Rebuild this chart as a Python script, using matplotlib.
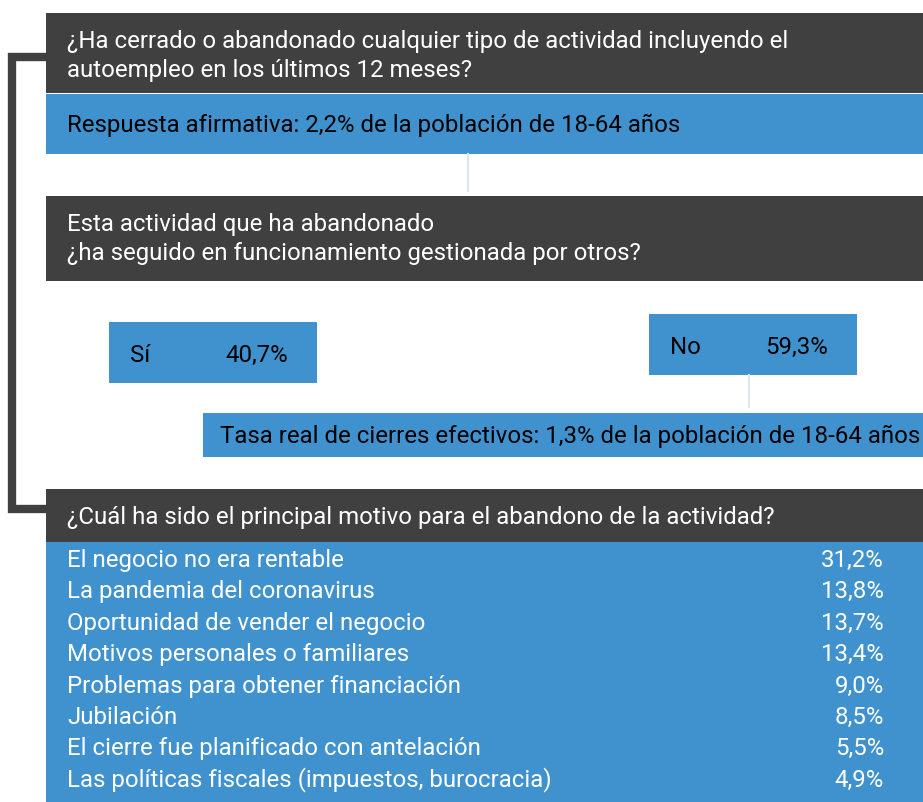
import matplotlib.pyplot as plt
from matplotlib.patches import Rectangle

plt.rcParams['font.family'] = ['Roboto', 'DejaVu Sans']

# datos
pregunta1 = ["¿Ha cerrado o abandonado cualquier tipo de actividad incluyendo el",
             "autoempleo en los últimos 12 meses?"]
respuesta1 = "Respuesta afirmativa: 2,2% de la población de 18-64 años"
pregunta2 = ["Esta actividad que ha abandonado",
             "¿ha seguido en funcionamiento gestionada por otros?"]
opciones = ["Sí", "No"]
opciones_pct = [40.7, 59.3]
tasa_real = "Tasa real de cierres efectivos: 1,3% de la población de 18-64 años"
pregunta3 = "¿Cuál ha sido el principal motivo para el abandono de la actividad?"
motivos = ["El negocio no era rentable",
           "La pandemia del coronavirus",
           "Oportunidad de vender el negocio",
           "Motivos personales o familiares",
           "Problemas para obtener financiación",
           "Jubilación",
           "El cierre fue planificado con antelación",
           "Las políticas fiscales (impuestos, burocracia)"]
motivos_pct = [31.2, 13.8, 13.7, 13.4, 9.0, 8.5, 5.5, 4.9]

GRIS = '#404040'
AZUL = '#3f92ce'
FS = 17.3

def pct(v):
    return f"{v:.1f}%".replace(".", ",")

fig = plt.figure(figsize=(9.23, 8.03), dpi=100)
ax = fig.add_axes([0, 0, 1, 1])
ax.set_xlim(0, 923)
ax.set_ylim(803, 0)
ax.axis('off')

def caja(x0, y0, x1, y1, color):
    ax.add_patch(Rectangle((x0, y0), x1 - x0, y1 - y0, color=color, lw=0))

def texto(x, y, s, color, **kw):
    ax.text(x, y, s, color=color, fontsize=FS, va='baseline', **kw)

# corchete lateral
ax.plot([46, 12, 12, 46], [58, 58, 510, 510], color=GRIS, lw=6,
        solid_joinstyle='miter', zorder=0)

# bloque 1
caja(46, 14, 923, 94, GRIS)
for i, linea in enumerate(pregunta1):
    texto(67, 48 + i * 29, linea, 'white')
caja(46, 95, 923, 155, AZUL)
texto(67, 132, respuesta1, 'black')
ax.plot([468, 468], [155, 192], color='#dde6ef', lw=1.5)

# bloque 2
caja(46, 197, 923, 282, GRIS)
for i, linea in enumerate(pregunta2):
    texto(67, 231 + i * 29, linea, 'white')

cajas_op = [(109, 323, 317, 384), (649, 315, 857, 376)]
for (x0, y0, x1, y1), lab, v in zip(cajas_op, opciones, opciones_pct):
    caja(x0, y0, x1, y1, AZUL)
    yb = y0 + 39
    texto(x0 + 21, yb, lab, 'black')
    texto(x0 + 116, yb, pct(v), 'black')
ax.plot([749, 749], [376, 408], color='#dde6ef', lw=1.5)

caja(203, 414, 923, 458, AZUL)
texto(220, 443, tasa_real, 'black')

# bloque 3
caja(46, 490, 923, 543, GRIS)
texto(67, 524, pregunta3, 'white')
caja(46, 543, 923, 803, AZUL)
for i, (m, v) in enumerate(zip(motivos, motivos_pct)):
    y = 567 + i * 31.4
    texto(67, y, m, 'white')
    texto(884, y, pct(v), 'white', ha='right')

fig.savefig('out.png', dpi=100)
